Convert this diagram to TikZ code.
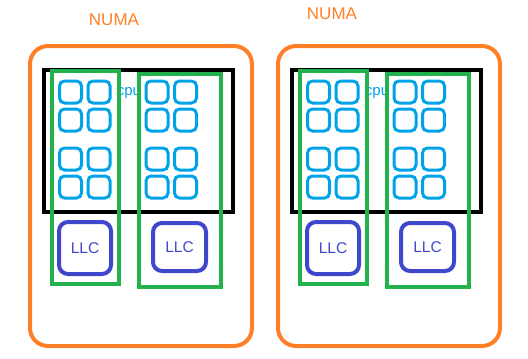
\documentclass[tikz,border=0pt]{standalone}
\usepackage{fontspec}
\setmainfont{Liberation Sans}
\usetikzlibrary{positioning}
\definecolor{numaorange}{RGB}{255,127,39}
\definecolor{grpgreen}{RGB}{34,177,76}
\definecolor{corecyan}{RGB}{0,162,232}
\definecolor{llcblue}{RGB}{63,72,204}

\begin{document}
\begin{tikzpicture}[x=1pt, y=-1pt,
  numa/.style={draw=numaorange, line width=4pt, rounded corners=18pt,
    minimum width=222pt, minimum height=300pt, inner sep=0pt},
  socket/.style={draw=black, line width=4pt,
    minimum width=189pt, minimum height=142pt, inner sep=0pt},
  core/.style={draw=corecyan, line width=3pt, rounded corners=5pt,
    minimum size=22pt, inner sep=0pt},
  group/.style={draw=grpgreen, line width=4pt, minimum height=213pt, inner sep=0pt},
  llc/.style={draw=llcblue, line width=4pt, rounded corners=9pt, inner sep=0pt,
    text=llcblue, font=\fontsize{15.5}{15.5}\selectfont},
  lbl/.style={text=numaorange, font=\fontsize{17}{17}\selectfont},
  cpulbl/.style={text=corecyan, font=\fontsize{15}{15}\selectfont, inner sep=0pt}
]
  \useasboundingbox (0,0) rectangle (528,359);

  % NUMA labels
  \node[lbl] (label-a) at (114,20) {NUMA};
  \node[lbl] (label-b) at (332,14) {NUMA};

  % two NUMA domains
  \foreach \d/\dx in {a/0, b/248} {
    \begin{scope}[xshift=\dx pt]
      \node[numa] (numa-\d) at (141,196) {};
      \node[socket] (socket-\d) at (138.5,141) {};
      \node[cpulbl] (cpu-\d) at (129,93) {cpu};

      % cores
      \foreach \g/\cx in {1/70.5, 2/157} {
        \foreach \c/\ox in {1/0, 2/28.5} {
          \foreach \r/\cy in {1/92, 2/120, 3/159, 4/187} {
            \node[core] (core-\d-\g-\c-\r) at (\cx+\ox,\cy) {};
          }
        }
      }

      % core groups with their LLC
      \node[group, minimum width=67pt] (group-\d-1) at (85.5,177.5) {};
      \node[group, minimum width=82pt] (group-\d-2) at (180,180.5) {};
      \node[llc, minimum width=52pt, minimum height=52pt] (llc-\d-1) at (85,248) {LLC};
      \node[llc, minimum width=53pt, minimum height=48pt] (llc-\d-2) at (179.5,247) {LLC};
    \end{scope}
  }
\end{tikzpicture}
\end{document}
